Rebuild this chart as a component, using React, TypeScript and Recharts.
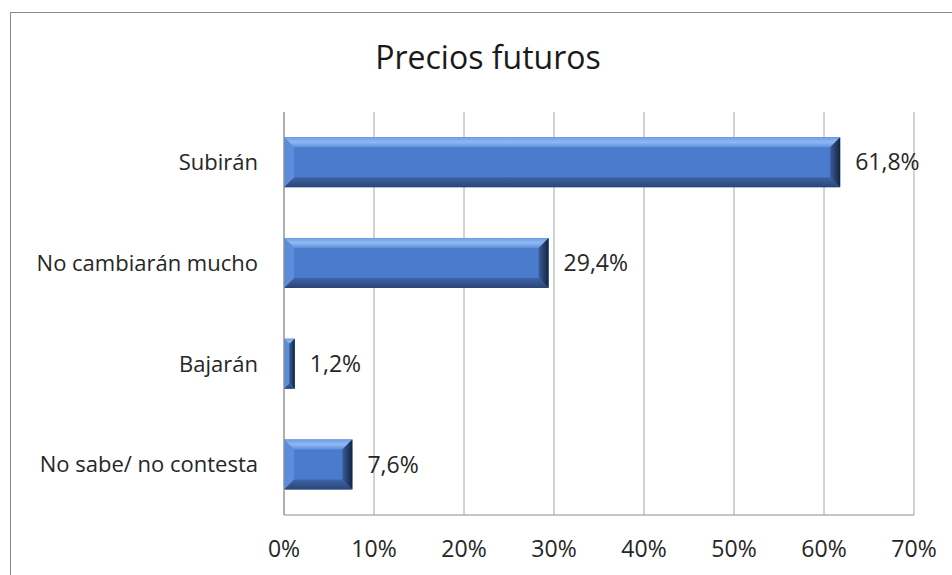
import { Bar, BarChart, CartesianGrid, LabelList, XAxis, YAxis } from "recharts";

const categories = ["Subirán", "No cambiarán mucho", "Bajarán", "No sabe/ no contesta"];
const values = [61.8, 29.4, 1.2, 7.6];
const xTicks = [0, 10, 20, 30, 40, 50, 60, 70];

const rows = categories.map((name, i) => ({ name, value: values[i] }));

const fmtPct = (v: number) => `${String(v).replace(".", ",")}%`;
const font = "'Open Sans', sans-serif";

// beveled bar, like the old office 3d bevel style
function BevelBar(props: any) {
  const { x, y, width: w, height: h } = props;
  if (!w || w <= 0) return null;
  const b = Math.min(10, w / 2, h / 2);
  return (
    <g>
      <rect x={x} y={y} width={w} height={h} fill="#4a7bcc" />
      <polygon
        points={`${x},${y} ${x + w},${y} ${x + w - b},${y + b} ${x + b},${y + b}`}
        fill="url(#bevelTop)"
      />
      <polygon
        points={`${x},${y + h} ${x + w},${y + h} ${x + w - b},${y + h - b} ${x + b},${y + h - b}`}
        fill="url(#bevelBottom)"
      />
      <polygon
        points={`${x},${y} ${x + b},${y + b} ${x + b},${y + h - b} ${x},${y + h}`}
        fill="#5d8cda"
      />
      <polygon
        points={`${x + w},${y} ${x + w},${y + h} ${x + w - b},${y + h - b} ${x + w - b},${y + b}`}
        fill="url(#bevelRight)"
      />
    </g>
  );
}

export default function App() {
  return (
    <div
      style={{
        position: "absolute",
        left: 0,
        top: 0,
        width: 952,
        height: 575,
        background: "#fff",
        overflow: "hidden",
        fontFamily: font,
      }}
    >
      <div
        style={{
          position: "absolute",
          left: 10,
          top: 12,
          width: 960,
          height: 600,
          borderLeft: "1px solid #898989",
          borderTop: "1px solid #898989",
        }}
      />
      <div
        style={{
          position: "absolute",
          left: 0,
          width: 976,
          top: 35,
          textAlign: "center",
          fontSize: 32,
          color: "#1a1a1a",
        }}
      >
        Precios futuros
      </div>
      <BarChart
        width={952}
        height={575}
        data={rows}
        layout="vertical"
        margin={{ top: 112, right: 38, bottom: 0, left: 10 }}
        barCategoryGap="25%"
        style={{ position: "absolute", left: 0, top: 0 }}
      >
        <defs>
          <linearGradient id="bevelTop" x1="0" y1="0" x2="0" y2="1">
            <stop offset="0%" stopColor="#6f9ce6" />
            <stop offset="50%" stopColor="#8fb8f2" />
            <stop offset="100%" stopColor="#5f8edb" />
          </linearGradient>
          <linearGradient id="bevelBottom" x1="0" y1="0" x2="0" y2="1">
            <stop offset="0%" stopColor="#3e64a6" />
            <stop offset="100%" stopColor="#2a4577" />
          </linearGradient>
          <linearGradient id="bevelRight" x1="0" y1="0" x2="1" y2="0">
            <stop offset="0%" stopColor="#3a5d9c" />
            <stop offset="100%" stopColor="#13233f" />
          </linearGradient>
        </defs>
        <CartesianGrid horizontal={false} stroke="#a6a6a6" />
        <XAxis
          type="number"
          domain={[0, 70]}
          ticks={xTicks}
          tickFormatter={(v) => `${v}%`}
          height={60}
          tickLine={false}
          axisLine={{ stroke: "#8c8c8c" }}
          tick={{ fontSize: 23, fill: "#262626", fontFamily: font }}
          tickMargin={20}
        />
        <YAxis
          type="category"
          dataKey="name"
          width={274}
          tickLine={false}
          axisLine={{ stroke: "#8c8c8c" }}
          tick={{ fontSize: 22, fill: "#262626", fontFamily: font }}
          tickMargin={20}
        />
        <Bar dataKey="value" shape={BevelBar} isAnimationActive={false}>
          <LabelList
            dataKey="value"
            position="right"
            offset={15}
            formatter={(v: any) => fmtPct(v)}
            style={{ fontSize: 23, fill: "#262626", fontFamily: font }}
          />
        </Bar>
      </BarChart>
    </div>
  );
}
